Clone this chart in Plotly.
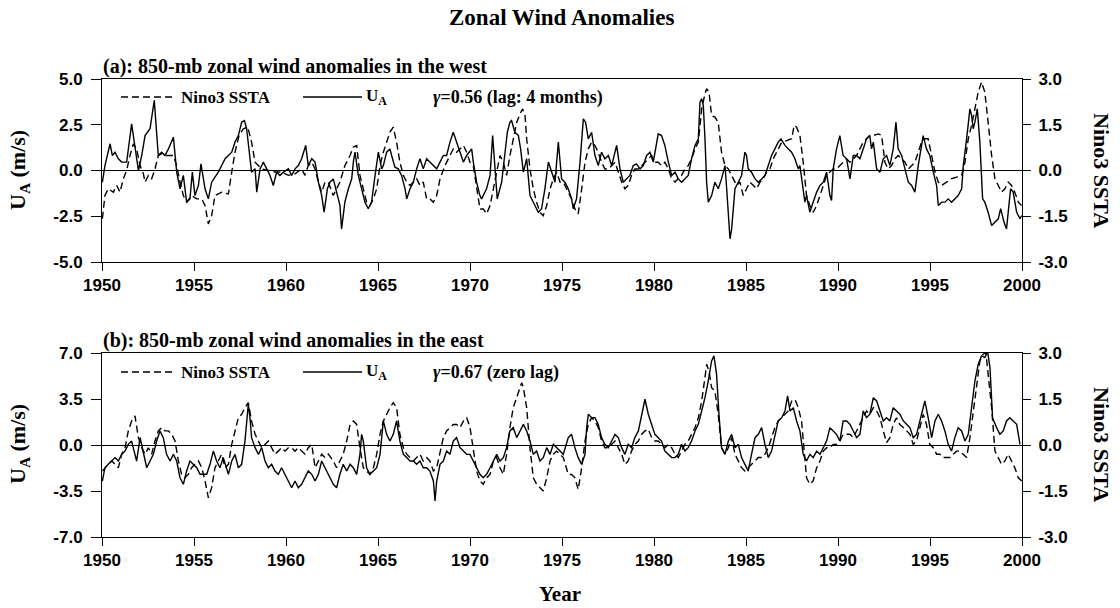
import plotly.graph_objects as go

# ---------------- data (decimal year, value) ----------------
# Panel (a): 850-mb zonal wind anomalies in the west (m/s)
west_u = [
    (1950.02, -0.64), (1950.16, 0.27), (1950.44, 1.46), (1950.56, 0.82), (1950.71, 1.00),
    (1950.89, 0.64), (1951.07, 0.46), (1951.34, 0.46), (1951.61, 2.55), (1951.79, 1.18),
    (1951.98, 0.00), (1952.16, 0.82), (1952.34, 1.91), (1952.61, 2.28), (1952.84, 3.83),
    (1953.06, 0.82), (1953.24, 1.00), (1953.42, 0.82), (1953.61, 1.18), (1953.88, 1.82),
    (1954.06, -0.09), (1954.24, -1.00), (1954.42, -0.27), (1954.60, -1.73), (1954.78, -1.55),
    (1954.91, -0.09), (1955.05, -1.37), (1955.24, -0.82), (1955.38, 0.36), (1955.60, -1.00),
    (1955.78, -1.55), (1955.96, -0.64), (1956.32, -0.09), (1956.69, 0.64), (1956.87, 0.82),
    (1957.05, 1.00), (1957.23, 1.55), (1957.41, 1.91), (1957.59, 2.64), (1957.74, 2.73),
    (1957.86, 2.28), (1958.04, 0.64), (1958.13, -0.09), (1958.32, 0.09), (1958.41, -1.18),
    (1958.59, 0.09), (1958.77, 0.46), (1958.95, 0.09), (1959.13, -0.27), (1959.31, -0.82),
    (1959.49, -0.09), (1959.67, -0.27), (1959.86, -0.09), (1960.13, 0.09), (1960.31, -0.27),
    (1960.49, 0.09), (1960.67, 0.27), (1960.85, 0.64), (1961.07, 1.37), (1961.21, 0.27),
    (1961.40, 0.64), (1961.58, 0.46), (1961.76, -0.64), (1961.94, -1.37), (1962.07, -2.28),
    (1962.25, -1.00), (1962.39, -0.64), (1962.57, -0.46), (1962.75, -1.18), (1962.93, -1.91),
    (1963.02, -3.19), (1963.20, -1.73), (1963.39, -1.00), (1963.57, -0.46), (1963.66, 0.46),
    (1963.75, 1.00), (1963.93, -0.27), (1964.11, -1.00), (1964.29, -1.73), (1964.47, -2.09),
    (1964.65, -1.73), (1964.84, -0.27), (1965.02, 1.00), (1965.20, 0.09), (1965.29, 0.27),
    (1965.47, 1.00), (1965.65, 1.18), (1965.74, 0.82), (1965.92, 0.18), (1966.10, 0.09),
    (1966.28, -0.27), (1966.47, -1.00), (1966.56, -1.55), (1966.74, -1.00), (1966.92, -0.64),
    (1967.10, 0.09), (1967.28, 0.64), (1967.46, 0.09), (1967.64, 0.64), (1967.82, 0.46),
    (1968.01, 0.27), (1968.19, 0.09), (1968.37, 0.46), (1968.55, 0.82), (1968.73, 0.82),
    (1968.91, 1.55), (1969.09, 2.09), (1969.27, 1.55), (1969.46, 1.00), (1969.64, 0.46),
    (1969.82, 0.82), (1970.09, 1.18), (1970.18, 0.46), (1970.36, -0.64), (1970.54, -1.37),
    (1970.63, -1.55), (1970.90, -1.00), (1971.09, -0.27), (1971.23, 1.91), (1971.36, 0.27),
    (1971.48, -1.55), (1971.72, -0.64), (1971.90, 0.82), (1972.03, 2.09), (1972.17, 2.64),
    (1972.26, 2.73), (1972.44, 2.09), (1972.63, 1.91), (1972.75, 1.18), (1972.90, -0.09),
    (1973.08, 0.64), (1973.26, -1.37), (1973.53, -1.91), (1973.71, -2.28), (1973.89, -2.09),
    (1974.07, -1.00), (1974.26, 0.46), (1974.44, -0.09), (1974.62, -0.64), (1974.80, 1.55),
    (1974.98, -0.46), (1975.16, -0.64), (1975.34, -1.00), (1975.52, -1.55), (1975.61, -2.09),
    (1975.79, -1.55), (1975.98, 0.46), (1976.16, 2.82), (1976.28, 2.64), (1976.43, 1.73),
    (1976.61, 2.09), (1976.79, 0.82), (1976.97, 0.27), (1977.15, 1.00), (1977.33, 0.64),
    (1977.52, 0.82), (1977.70, 0.27), (1977.97, 1.37), (1978.15, 0.09), (1978.33, -0.64),
    (1978.51, -0.46), (1978.69, -0.27), (1978.87, 0.27), (1979.05, 0.36), (1979.24, 0.09),
    (1979.42, 0.27), (1979.60, 0.82), (1979.78, 1.00), (1979.96, 0.46), (1980.23, 2.00),
    (1980.41, 1.91), (1980.59, 1.37), (1980.78, 0.46), (1980.96, -0.27), (1981.14, -0.09),
    (1981.32, -0.46), (1981.50, -0.64), (1981.68, -0.46), (1981.86, -0.27), (1982.04, 0.64),
    (1982.23, 1.37), (1982.41, 1.73), (1982.50, 3.73), (1982.59, 3.92), (1982.68, 3.55),
    (1982.77, 1.73), (1982.86, -0.64), (1982.95, -1.73), (1983.13, -1.37), (1983.31, -0.64),
    (1983.49, -1.00), (1983.67, -0.46), (1983.86, 0.27), (1983.95, -1.00), (1984.04, -2.46),
    (1984.13, -3.73), (1984.22, -3.19), (1984.40, -1.00), (1984.58, -0.64), (1984.76, -0.27),
    (1984.94, 1.00), (1985.03, 0.82), (1985.12, 0.09), (1985.30, -0.09), (1985.49, -0.46),
    (1985.67, -0.64), (1985.85, -0.46), (1986.03, -0.27), (1986.21, 0.27), (1986.39, 0.82),
    (1986.57, 1.18), (1986.75, 1.55), (1986.90, 1.73), (1987.12, 1.37), (1987.30, 1.18),
    (1987.48, 1.00), (1987.66, 0.64), (1987.84, 0.09), (1987.93, 0.27), (1988.11, -1.00),
    (1988.20, -1.73), (1988.29, -1.37), (1988.38, -1.91), (1988.47, -2.28), (1988.65, -1.73),
    (1988.84, -1.18), (1989.02, -0.82), (1989.20, -0.64), (1989.38, -0.09), (1989.56, -1.37),
    (1989.65, -1.64), (1989.74, 0.09), (1989.92, 1.18), (1990.10, 1.91), (1990.28, 0.82),
    (1990.47, 0.64), (1990.65, -0.46), (1990.83, 0.82), (1991.01, 0.82), (1991.19, 0.64),
    (1991.37, 1.18), (1991.55, 1.73), (1991.73, 1.91), (1991.82, 1.18), (1991.92, 1.55),
    (1992.10, 0.09), (1992.28, -0.09), (1992.46, 0.64), (1992.64, 0.82), (1992.82, 0.27),
    (1993.00, 1.18), (1993.15, 2.64), (1993.27, 1.18), (1993.46, 0.82), (1993.64, 0.09),
    (1993.82, -0.64), (1994.00, -0.82), (1994.18, -1.18), (1994.36, 0.27), (1994.54, 1.55),
    (1994.63, 1.91), (1994.81, 1.18), (1994.99, 0.82), (1995.18, -0.09), (1995.36, -0.82),
    (1995.45, -1.91), (1995.63, -1.73), (1995.81, -1.73), (1995.99, -1.55), (1996.17, -1.73),
    (1996.35, -1.55), (1996.53, -1.37), (1996.72, -1.00), (1996.81, 0.27), (1996.99, 1.73),
    (1997.17, 3.37), (1997.26, 3.01), (1997.35, 2.28), (1997.44, 2.64), (1997.57, 3.37),
    (1997.71, 1.55), (1997.86, -1.55), (1997.98, -1.73), (1998.16, -2.28), (1998.35, -3.01),
    (1998.53, -2.82), (1998.71, -2.64), (1998.84, -2.09), (1999.02, -2.82), (1999.16, -3.19),
    (1999.25, -2.09), (1999.38, -1.00), (1999.52, -1.18), (1999.71, -2.28), (1999.89, -2.64),
    (1999.98, -2.46),
]

# Panel (a): Nino3 SSTA (deg C, right axis)
west_sst = [
    (1950.02, -1.58), (1950.16, -0.82), (1950.34, -0.60), (1950.62, -0.71), (1950.80, -0.49),
    (1950.98, -0.71), (1951.16, -0.27), (1951.34, 0.00), (1951.52, 0.49), (1951.70, 0.87),
    (1951.88, 0.71), (1952.07, 0.16), (1952.25, -0.11), (1952.34, -0.38), (1952.52, -0.16),
    (1952.70, -0.27), (1952.88, 0.05), (1953.06, 0.49), (1953.24, 0.55), (1953.51, 0.49),
    (1953.88, 0.49), (1954.06, 0.16), (1954.24, -0.38), (1954.42, -0.82), (1954.60, -1.04),
    (1954.87, -0.82), (1955.15, -0.93), (1955.42, -0.93), (1955.60, -1.15), (1955.69, -1.48),
    (1955.78, -1.75), (1955.96, -1.48), (1956.14, -0.82), (1956.50, -0.71), (1956.87, -0.77),
    (1957.05, -0.05), (1957.23, 0.60), (1957.45, 1.15), (1957.68, 1.37), (1957.92, 1.42),
    (1958.13, 0.93), (1958.32, 0.27), (1958.68, 0.05), (1959.04, 0.00), (1959.40, -0.05),
    (1959.76, -0.05), (1960.13, -0.16), (1960.49, -0.11), (1960.85, 0.05), (1961.03, -0.16),
    (1961.21, 0.16), (1961.40, 0.27), (1961.58, 0.05), (1961.76, -0.38), (1961.94, -0.71),
    (1962.12, -0.38), (1962.30, -0.38), (1962.57, -0.82), (1962.75, -0.60), (1962.93, -0.38),
    (1963.20, 0.16), (1963.48, 0.49), (1963.66, 0.77), (1963.84, 0.82), (1964.02, -0.16),
    (1964.20, -0.60), (1964.38, -1.04), (1964.56, -1.15), (1964.75, -0.93), (1964.93, -0.60),
    (1965.11, 0.16), (1965.29, 0.60), (1965.47, 0.93), (1965.65, 1.26), (1965.83, 1.42),
    (1966.01, 0.93), (1966.19, 0.27), (1966.38, -0.16), (1966.56, -0.38), (1966.74, -0.49),
    (1966.92, -0.38), (1967.10, -0.27), (1967.28, -0.49), (1967.46, -0.38), (1967.64, -0.93),
    (1967.82, -0.93), (1968.01, -1.04), (1968.19, -0.82), (1968.37, -0.27), (1968.64, 0.16),
    (1968.91, 0.49), (1969.09, 0.71), (1969.27, 0.60), (1969.46, 0.71), (1969.64, 0.82),
    (1969.82, 0.60), (1970.00, 0.27), (1970.18, 0.16), (1970.36, -0.49), (1970.54, -1.26),
    (1970.72, -1.26), (1970.90, -1.42), (1971.09, -1.15), (1971.27, -0.60), (1971.45, 0.05),
    (1971.63, 0.49), (1971.81, 0.27), (1971.99, -0.16), (1972.17, 0.49), (1972.35, 1.04),
    (1972.54, 1.58), (1972.72, 1.86), (1972.86, 2.02), (1972.99, 1.80), (1973.08, 1.04),
    (1973.26, 0.05), (1973.44, -0.60), (1973.62, -1.04), (1973.80, -1.37), (1973.98, -1.48),
    (1974.17, -1.15), (1974.35, -0.60), (1974.53, -0.27), (1974.71, -0.05), (1974.89, -0.38),
    (1975.07, -0.38), (1975.34, -0.71), (1975.52, -0.93), (1975.70, -1.26), (1975.88, -1.42),
    (1976.07, -0.60), (1976.25, 0.27), (1976.43, 0.71), (1976.61, 0.93), (1976.79, 0.82),
    (1976.97, 0.60), (1977.15, 0.27), (1977.33, 0.05), (1977.52, 0.05), (1977.70, 0.16),
    (1977.88, 0.27), (1978.06, -0.05), (1978.24, -0.38), (1978.42, -0.60), (1978.60, -0.49),
    (1978.78, -0.16), (1978.96, 0.05), (1979.15, 0.05), (1979.33, 0.16), (1979.51, 0.27),
    (1979.69, 0.38), (1979.87, 0.49), (1980.05, 0.27), (1980.23, 0.27), (1980.41, 0.16),
    (1980.59, 0.27), (1980.78, 0.05), (1980.96, -0.27), (1981.14, -0.38), (1981.32, -0.27),
    (1981.50, -0.16), (1981.68, 0.05), (1981.86, 0.16), (1982.04, 0.38), (1982.23, 0.71),
    (1982.41, 0.93), (1982.59, 2.02), (1982.77, 2.51), (1982.86, 2.68), (1982.99, 2.57),
    (1983.13, 1.80), (1983.31, 1.75), (1983.49, 1.58), (1983.67, 0.60), (1983.86, 0.16),
    (1984.04, 0.05), (1984.31, -0.27), (1984.49, -0.49), (1984.67, -0.38), (1984.85, -0.82),
    (1985.03, -0.60), (1985.21, -0.38), (1985.40, -0.49), (1985.58, -0.60), (1985.76, -0.38),
    (1985.94, -0.27), (1986.12, -0.05), (1986.30, 0.05), (1986.48, 0.38), (1986.66, 0.60),
    (1986.94, 0.93), (1987.21, 0.98), (1987.48, 1.04), (1987.62, 1.48), (1987.75, 1.42),
    (1987.93, 1.15), (1988.11, 0.27), (1988.29, -0.82), (1988.47, -1.15), (1988.65, -1.37),
    (1988.84, -1.15), (1989.02, -0.82), (1989.20, -0.49), (1989.38, -0.16), (1989.56, -0.05),
    (1989.74, 0.05), (1989.92, 0.05), (1990.10, 0.16), (1990.28, 0.27), (1990.47, 0.38),
    (1990.65, 0.27), (1990.83, 0.38), (1991.01, 0.49), (1991.19, 0.71), (1991.37, 0.93),
    (1991.55, 1.04), (1991.73, 1.15), (1991.92, 1.15), (1992.19, 1.20), (1992.37, 1.15),
    (1992.55, 0.27), (1992.73, 0.05), (1992.91, 0.16), (1993.09, 0.38), (1993.27, 0.49),
    (1993.46, 0.38), (1993.64, 0.27), (1993.82, 0.05), (1994.00, 0.16), (1994.18, 0.27),
    (1994.36, 0.60), (1994.54, 0.93), (1994.72, 1.04), (1994.90, 1.04), (1995.09, 0.49),
    (1995.27, -0.05), (1995.45, -0.38), (1995.63, -0.49), (1995.90, -0.38), (1996.17, -0.27),
    (1996.44, -0.22), (1996.72, -0.16), (1996.90, 0.27), (1997.08, 1.04), (1997.26, 1.48),
    (1997.44, 2.02), (1997.62, 2.57), (1997.80, 2.90), (1997.98, 2.57), (1998.16, 1.58),
    (1998.35, 0.49), (1998.53, -0.27), (1998.71, -0.49), (1998.89, -0.71), (1999.07, -0.60),
    (1999.25, -0.38), (1999.43, -0.49), (1999.61, -0.71), (1999.80, -1.04), (1999.98, -1.15),
]

# Panel (b): 850-mb zonal wind anomalies in the east (m/s)
east_u = [
    (1950.02, -2.74), (1950.16, -1.73), (1950.34, -1.47), (1950.53, -1.22), (1950.71, -0.96),
    (1950.89, -1.22), (1951.07, -0.71), (1951.25, -0.46), (1951.43, 0.05), (1951.61, 0.30),
    (1951.79, -0.71), (1951.88, -1.22), (1952.07, 0.56), (1952.25, -0.71), (1952.43, -1.73),
    (1952.61, -1.22), (1952.79, -0.71), (1952.97, 0.30), (1953.15, 1.07), (1953.33, 0.56),
    (1953.51, -0.71), (1953.70, -1.22), (1953.88, -0.71), (1954.06, -1.22), (1954.24, -2.49),
    (1954.42, -2.99), (1954.60, -1.98), (1954.78, -1.22), (1954.96, -1.47), (1955.15, -1.73),
    (1955.33, -2.23), (1955.51, -2.23), (1955.69, -2.23), (1955.87, -1.47), (1956.05, -0.46),
    (1956.23, -1.22), (1956.41, -1.73), (1956.59, -0.96), (1956.78, -1.73), (1956.87, -2.23),
    (1957.05, -1.22), (1957.23, -0.71), (1957.41, -1.73), (1957.59, -1.47), (1957.77, 0.30),
    (1957.95, 3.10), (1958.04, 2.08), (1958.13, 0.56), (1958.32, -0.20), (1958.50, -0.71),
    (1958.68, -0.20), (1958.86, -1.22), (1959.04, -1.73), (1959.22, -1.47), (1959.40, -1.98),
    (1959.58, -2.23), (1959.76, -1.73), (1959.95, -2.23), (1960.13, -2.74), (1960.31, -3.25),
    (1960.49, -2.74), (1960.67, -3.25), (1960.85, -2.99), (1961.03, -2.49), (1961.21, -1.98),
    (1961.40, -2.23), (1961.58, -2.74), (1961.76, -2.23), (1961.94, -1.22), (1962.12, -1.73),
    (1962.30, -2.23), (1962.57, -2.99), (1962.75, -3.25), (1962.93, -2.23), (1963.11, -1.47),
    (1963.30, -1.98), (1963.48, -1.47), (1963.66, -1.73), (1963.84, -2.23), (1964.02, -0.71),
    (1964.11, 0.81), (1964.20, 0.30), (1964.38, -1.73), (1964.56, -2.23), (1964.75, -1.98),
    (1964.93, -1.73), (1965.11, -0.71), (1965.29, 1.83), (1965.47, 0.81), (1965.65, 0.30),
    (1965.83, 0.81), (1966.01, 1.83), (1966.19, 0.30), (1966.38, -0.71), (1966.56, -0.96),
    (1966.74, -1.22), (1966.92, -1.22), (1967.10, -1.47), (1967.28, -1.22), (1967.46, -1.73),
    (1967.64, -1.73), (1967.82, -1.98), (1968.01, -2.74), (1968.10, -4.26), (1968.19, -2.74),
    (1968.37, -1.47), (1968.55, -1.22), (1968.73, -0.46), (1968.91, -0.71), (1969.09, 0.30),
    (1969.27, 0.56), (1969.46, -0.20), (1969.64, -0.46), (1969.82, -0.71), (1970.00, -0.71),
    (1970.18, -1.22), (1970.36, -1.73), (1970.54, -2.23), (1970.72, -2.49), (1970.90, -2.23),
    (1971.09, -1.73), (1971.27, -1.22), (1971.45, -0.71), (1971.63, -1.22), (1971.81, -0.96),
    (1971.99, -0.20), (1972.17, 1.07), (1972.35, 1.32), (1972.54, 0.56), (1972.72, 1.07),
    (1972.90, 1.57), (1973.08, 1.07), (1973.26, 0.30), (1973.44, -0.71), (1973.62, -0.46),
    (1973.80, -1.22), (1973.98, -0.96), (1974.17, -0.20), (1974.35, -0.71), (1974.53, 0.05),
    (1974.71, -0.20), (1974.89, -0.46), (1975.07, -0.71), (1975.34, 0.56), (1975.52, 0.81),
    (1975.70, -0.20), (1975.88, -0.96), (1976.07, -1.47), (1976.25, -0.71), (1976.34, 1.32),
    (1976.43, 2.34), (1976.61, 2.08), (1976.79, 2.08), (1976.97, 1.57), (1977.15, 0.56),
    (1977.33, 0.05), (1977.52, -0.20), (1977.70, 0.30), (1977.88, 0.81), (1978.06, 0.56),
    (1978.24, -0.20), (1978.42, -0.71), (1978.60, 0.05), (1978.78, -0.20), (1978.96, 0.56),
    (1979.15, 1.07), (1979.33, 2.34), (1979.51, 3.48), (1979.69, 2.34), (1979.87, 1.57),
    (1980.05, 0.81), (1980.23, 0.56), (1980.41, 0.30), (1980.59, -0.46), (1980.78, -0.71),
    (1980.96, -0.96), (1981.14, -0.96), (1981.32, -0.71), (1981.50, 0.05), (1981.68, -0.46),
    (1981.86, -0.20), (1982.04, 0.30), (1982.23, 1.07), (1982.41, 1.57), (1982.59, 2.59),
    (1982.77, 3.60), (1982.95, 4.87), (1983.13, 6.40), (1983.26, 6.78), (1983.40, 5.38),
    (1983.53, 2.34), (1983.67, -0.20), (1983.86, -0.71), (1984.04, 0.30), (1984.22, 0.81),
    (1984.40, -0.20), (1984.58, 0.05), (1984.76, -0.96), (1984.94, -1.47), (1985.12, -1.98),
    (1985.30, -0.71), (1985.49, 0.56), (1985.67, 0.81), (1985.85, 1.32), (1986.03, 0.05),
    (1986.21, -0.96), (1986.39, -0.46), (1986.57, 0.81), (1986.75, 1.83), (1986.94, 2.08),
    (1987.12, 2.59), (1987.26, 3.73), (1987.39, 2.59), (1987.57, 2.84), (1987.75, 1.83),
    (1987.93, 1.07), (1988.11, -0.71), (1988.29, -1.22), (1988.47, -0.71), (1988.65, -0.96),
    (1988.84, -0.46), (1989.02, -0.71), (1989.20, -0.20), (1989.38, 0.30), (1989.56, 1.32),
    (1989.74, 1.07), (1989.92, 0.81), (1990.10, 0.30), (1990.28, 1.83), (1990.47, 1.83),
    (1990.65, 1.57), (1990.83, 1.07), (1991.01, 0.56), (1991.19, 0.81), (1991.37, 2.59),
    (1991.55, 2.08), (1991.73, 2.34), (1991.92, 3.60), (1992.10, 3.35), (1992.28, 2.59),
    (1992.46, 1.83), (1992.64, 2.08), (1992.82, 1.83), (1993.00, 2.84), (1993.18, 2.59),
    (1993.36, 2.34), (1993.55, 1.83), (1993.73, 1.57), (1993.91, 1.32), (1994.09, 0.56),
    (1994.27, 0.81), (1994.45, 1.83), (1994.63, 2.84), (1994.72, 3.35), (1994.90, 2.08),
    (1995.09, 0.56), (1995.27, 1.83), (1995.45, 2.34), (1995.63, 1.83), (1995.81, 1.07),
    (1995.99, 0.05), (1996.17, -0.46), (1996.35, 0.56), (1996.53, 1.32), (1996.72, 1.07),
    (1996.90, 0.30), (1997.08, 0.81), (1997.26, 2.84), (1997.44, 4.87), (1997.62, 6.14),
    (1997.80, 6.78), (1997.98, 6.65), (1998.13, 7.11), (1998.26, 5.89), (1998.40, 2.08),
    (1998.62, 1.32), (1998.80, 0.81), (1998.98, 1.07), (1999.16, 1.83), (1999.34, 2.08),
    (1999.52, 1.83), (1999.71, 1.57), (1999.89, 0.05),
]

# Panel (b): Nino3 SSTA (deg C, right axis)
east_sst = [
    (1950.02, -0.85), (1950.16, -0.74), (1950.34, -0.63), (1950.53, -0.52), (1950.71, -0.63),
    (1950.89, -0.74), (1951.07, -0.30), (1951.25, -0.09), (1951.43, 0.46), (1951.61, 0.78),
    (1951.79, 0.95), (1951.98, 0.24), (1952.16, -0.09), (1952.34, -0.30), (1952.52, -0.09),
    (1952.70, -0.30), (1952.88, 0.13), (1953.06, 0.46), (1953.24, 0.57), (1953.42, 0.46),
    (1953.61, 0.46), (1953.79, 0.35), (1953.97, 0.13), (1954.15, -0.52), (1954.33, -0.96),
    (1954.51, -1.07), (1954.69, -0.96), (1954.87, -0.74), (1955.05, -0.63), (1955.24, -0.52),
    (1955.42, -0.74), (1955.60, -1.17), (1955.78, -1.72), (1955.96, -1.39), (1956.14, -0.74),
    (1956.32, -0.52), (1956.50, -0.30), (1956.69, -0.74), (1956.87, -0.63), (1957.05, 0.02),
    (1957.23, 0.46), (1957.41, 0.89), (1957.59, 1.00), (1957.77, 1.22), (1957.95, 1.38),
    (1958.13, 0.78), (1958.32, 0.35), (1958.50, 0.13), (1958.68, -0.09), (1958.86, 0.02),
    (1959.04, 0.13), (1959.22, -0.09), (1959.40, -0.30), (1959.58, -0.20), (1959.76, -0.09),
    (1959.95, -0.20), (1960.13, -0.09), (1960.31, -0.09), (1960.49, -0.20), (1960.67, -0.09),
    (1960.85, -0.20), (1961.03, -0.30), (1961.21, -0.09), (1961.40, 0.02), (1961.58, -0.74),
    (1961.76, -0.52), (1961.94, -0.30), (1962.12, -0.41), (1962.30, -0.30), (1962.57, -0.52),
    (1962.75, -0.74), (1962.93, -0.52), (1963.11, -0.30), (1963.30, 0.13), (1963.48, 0.67),
    (1963.66, 0.78), (1963.84, 0.67), (1964.02, -0.09), (1964.20, -0.74), (1964.38, -0.85),
    (1964.56, -0.96), (1964.75, -0.74), (1964.93, -0.30), (1965.11, 0.35), (1965.29, 0.78),
    (1965.47, 1.00), (1965.65, 1.22), (1965.83, 1.38), (1966.01, 1.22), (1966.19, 0.35),
    (1966.38, -0.09), (1966.56, -0.30), (1966.74, -0.41), (1966.92, -0.52), (1967.10, -0.41),
    (1967.28, -0.30), (1967.46, -0.52), (1967.64, -0.41), (1967.82, -0.52), (1968.01, -0.85),
    (1968.19, -0.74), (1968.37, -0.30), (1968.55, 0.24), (1968.73, 0.46), (1968.91, 0.57),
    (1969.09, 0.67), (1969.27, 0.67), (1969.46, 0.57), (1969.64, 0.78), (1969.82, 0.89),
    (1970.00, 0.57), (1970.18, -0.09), (1970.36, -0.85), (1970.54, -1.17), (1970.72, -1.28),
    (1970.90, -1.07), (1971.09, -0.96), (1971.27, -0.52), (1971.45, -0.41), (1971.63, -0.74),
    (1971.81, -0.96), (1971.99, -0.30), (1972.17, 0.57), (1972.35, 1.22), (1972.54, 1.54),
    (1972.72, 1.87), (1972.81, 2.03), (1972.90, 1.87), (1973.08, 1.22), (1973.26, -0.09),
    (1973.44, -1.07), (1973.62, -1.28), (1973.80, -1.39), (1973.98, -1.50), (1974.17, -1.07),
    (1974.35, -0.52), (1974.53, -0.30), (1974.71, -0.20), (1974.89, -0.30), (1975.07, -0.41),
    (1975.34, -0.96), (1975.52, -0.96), (1975.70, -1.07), (1975.88, -1.45), (1976.07, -0.74),
    (1976.25, 0.13), (1976.43, 0.67), (1976.61, 0.89), (1976.79, 0.78), (1976.97, 0.57),
    (1977.15, 0.13), (1977.33, -0.09), (1977.52, -0.09), (1977.70, 0.02), (1977.88, 0.13),
    (1978.06, -0.09), (1978.24, -0.30), (1978.42, -0.63), (1978.60, -0.52), (1978.78, -0.20),
    (1978.96, 0.02), (1979.15, 0.13), (1979.33, 0.35), (1979.51, 0.46), (1979.69, 0.51),
    (1979.87, 0.24), (1980.05, 0.13), (1980.23, 0.13), (1980.41, 0.02), (1980.59, -0.09),
    (1980.78, 0.02), (1980.96, -0.09), (1981.14, -0.30), (1981.32, -0.41), (1981.50, -0.20),
    (1981.68, 0.02), (1981.86, 0.13), (1982.04, 0.35), (1982.23, 0.57), (1982.41, 0.89),
    (1982.59, 1.43), (1982.77, 2.20), (1982.86, 2.63), (1982.99, 2.41), (1983.13, 1.87),
    (1983.31, 1.76), (1983.49, 1.00), (1983.67, -0.09), (1983.86, -0.30), (1984.04, -0.09),
    (1984.22, 0.24), (1984.40, -0.30), (1984.58, -0.52), (1984.76, -0.74), (1984.94, -0.85),
    (1985.12, -0.74), (1985.30, -0.63), (1985.49, -0.52), (1985.67, -0.41), (1985.85, -0.41),
    (1986.03, -0.30), (1986.21, -0.09), (1986.39, 0.24), (1986.57, 0.57), (1986.75, 0.78),
    (1986.94, 0.89), (1987.12, 1.00), (1987.30, 1.11), (1987.48, 1.43), (1987.66, 1.49),
    (1987.84, 1.22), (1988.02, 0.78), (1988.29, -1.07), (1988.47, -1.28), (1988.65, -1.17),
    (1988.84, -0.74), (1989.02, -0.52), (1989.20, -0.20), (1989.38, -0.09), (1989.56, -0.09),
    (1989.74, 0.02), (1989.92, 0.02), (1990.10, 0.13), (1990.28, 0.35), (1990.47, 0.35),
    (1990.65, 0.35), (1990.83, 0.24), (1991.01, 0.46), (1991.19, 0.67), (1991.37, 0.89),
    (1991.55, 1.11), (1991.73, 1.00), (1991.92, 1.22), (1992.10, 1.11), (1992.28, 0.89),
    (1992.46, 0.46), (1992.64, 0.08), (1992.82, 0.24), (1993.00, 0.67), (1993.18, 0.89),
    (1993.36, 0.67), (1993.55, 0.57), (1993.73, 0.46), (1993.91, 0.35), (1994.09, 0.02),
    (1994.27, 0.13), (1994.45, 0.57), (1994.63, 1.00), (1994.81, 0.67), (1994.99, 0.02),
    (1995.18, -0.09), (1995.36, -0.30), (1995.54, -0.30), (1995.72, -0.41), (1995.90, -0.41),
    (1996.08, -0.41), (1996.26, -0.30), (1996.44, -0.20), (1996.63, -0.20), (1996.81, -0.30),
    (1996.99, -0.41), (1997.17, 0.24), (1997.35, 1.11), (1997.53, 1.87), (1997.71, 2.74),
    (1997.89, 2.96), (1998.04, 3.01), (1998.16, 2.30), (1998.35, 1.22), (1998.53, -0.20),
    (1998.71, -0.41), (1998.89, -0.63), (1999.07, -0.52), (1999.25, -0.30), (1999.43, -0.52),
    (1999.61, -0.74), (1999.80, -1.07), (1999.98, -1.17),
]

year_ticks = list(range(1950, 2001, 5))
west_u_ticks = [-5.0, -2.5, 0.0, 2.5, 5.0]
east_u_ticks = [-7.0, -3.5, 0.0, 3.5, 7.0]
sst_ticks = [-3.0, -1.5, 0.0, 1.5, 3.0]

title_text = "Zonal Wind Anomalies"
panel_a_title = "(a): 850-mb zonal wind anomalies in the west"
panel_b_title = "(b): 850-mb zonal wind anomalies in the east"
corr_a = "<i>γ</i>=0.56 (lag: 4 months)"
corr_b = "<i>γ</i>=0.67 (zero lag)"

# ---------------- layout helpers ----------------
W, H = 1120, 608
L, R, T, B = 102, 1022, 79, 537          # plot-area pixel bounds
A_BOT, B_TOP = 262, 353                  # inner panel edges


def px(x):
    return (x - L) / (R - L)


def py(y):
    return (B - y) / (B - T)


SERIF = "Liberation Serif, Times New Roman, serif"
SANS = "Liberation Sans, Arial, sans-serif"
tick_font = dict(family=SANS, size=17, color="black", weight="bold")

DASH = "7px,4px"
LW = 1.4

fig = go.Figure()


def split(pts):
    return [p[0] for p in pts], [p[1] for p in pts]


x, y = split(west_sst)
fig.add_trace(go.Scatter(x=x, y=y, xaxis="x", yaxis="y2", mode="lines",
                         line=dict(color="black", width=LW, dash=DASH), showlegend=False))
x, y = split(west_u)
fig.add_trace(go.Scatter(x=x, y=y, xaxis="x", yaxis="y", mode="lines",
                         line=dict(color="black", width=LW), showlegend=False))
x, y = split(east_sst)
fig.add_trace(go.Scatter(x=x, y=y, xaxis="x2", yaxis="y4", mode="lines",
                         line=dict(color="black", width=LW, dash=DASH), showlegend=False))
x, y = split(east_u)
fig.add_trace(go.Scatter(x=x, y=y, xaxis="x2", yaxis="y3", mode="lines",
                         line=dict(color="black", width=LW), showlegend=False))


def xaxis_cfg(anchor):
    return dict(domain=[0, 1], anchor=anchor, range=[1950, 2000],
                tickvals=year_ticks, ticktext=[str(v) for v in year_ticks],
                ticks="outside", ticklen=8, tickwidth=1, tickcolor="black",
                showline=True, linecolor="black", linewidth=1, mirror=True,
                showgrid=False, zeroline=False, tickfont=tick_font)


def yaxis_cfg(domain, anchor, rng, vals):
    return dict(domain=domain, anchor=anchor, range=rng, tickvals=vals,
                ticktext=["%.1f" % v for v in vals], ticks="outside", ticklen=10,
                tickwidth=1, tickcolor="black", showline=True, linecolor="black",
                linewidth=1, showgrid=False, zeroline=True, zerolinecolor="black",
                zerolinewidth=1, tickfont=tick_font, ticklabelstandoff=5)


def y2_cfg(over, anchor):
    return dict(overlaying=over, anchor=anchor, side="right", range=[-3, 3],
                tickvals=sst_ticks, ticktext=["%.1f" % v for v in sst_ticks],
                ticks="outside", ticklen=8, tickwidth=1, tickcolor="black",
                showline=True, linecolor="black", linewidth=1, showgrid=False,
                zeroline=False, tickfont=tick_font, ticklabelstandoff=4)


dom_a = [py(A_BOT), 1]
dom_b = [0, py(B_TOP)]

fig.update_layout(
    width=W, height=H,
    margin=dict(l=L, r=W - R, t=T, b=H - B, pad=0),
    paper_bgcolor="white", plot_bgcolor="white",
    showlegend=False,
    xaxis=xaxis_cfg("y"),
    xaxis2=xaxis_cfg("y3"),
    yaxis=yaxis_cfg(dom_a, "x", [-5, 5], west_u_ticks),
    yaxis2=y2_cfg("y", "x"),
    yaxis3=yaxis_cfg(dom_b, "x2", [-7, 7], east_u_ticks),
    yaxis4=y2_cfg("y3", "x2"),
)

ann = []
shapes = []


def text(x, y, s, size, xanchor="left", angle=0, family=SERIF):
    ann.append(dict(x=px(x), y=py(y), xref="paper", yref="paper", text=s,
                    showarrow=False, xanchor=xanchor, yanchor="middle", textangle=angle,
                    font=dict(family=family, size=size, color="black", weight="bold")))


text(561, 18, title_text, 23, "center")
text(101, 67, panel_a_title, 20)
text(101, 340, panel_b_title, 20)
text(560, 594, "Year", 21, "center")

for ycen in (170, 444):
    text(19, ycen, "U<sub>A</sub> (m/s)", 22, "center", angle=-90)
    text(1102, ycen, "Nino3 SSTA", 22, "center", angle=90)

for ly, corr in ((97, corr_a), (372, corr_b)):
    shapes.append(dict(type="line", xref="paper", yref="paper", x0=px(121), x1=px(176),
                       y0=py(ly), y1=py(ly), line=dict(color="black", width=LW, dash=DASH)))
    text(179, ly, "Nino3 SSTA", 17)
    shapes.append(dict(type="line", xref="paper", yref="paper", x0=px(303), x1=px(362),
                       y0=py(ly), y1=py(ly), line=dict(color="black", width=LW)))
    text(364, ly, "U<sub>A</sub>", 17)
    text(431, ly, corr, 18)

fig.update_layout(annotations=ann, shapes=shapes)

fig.write_html("out.html")
